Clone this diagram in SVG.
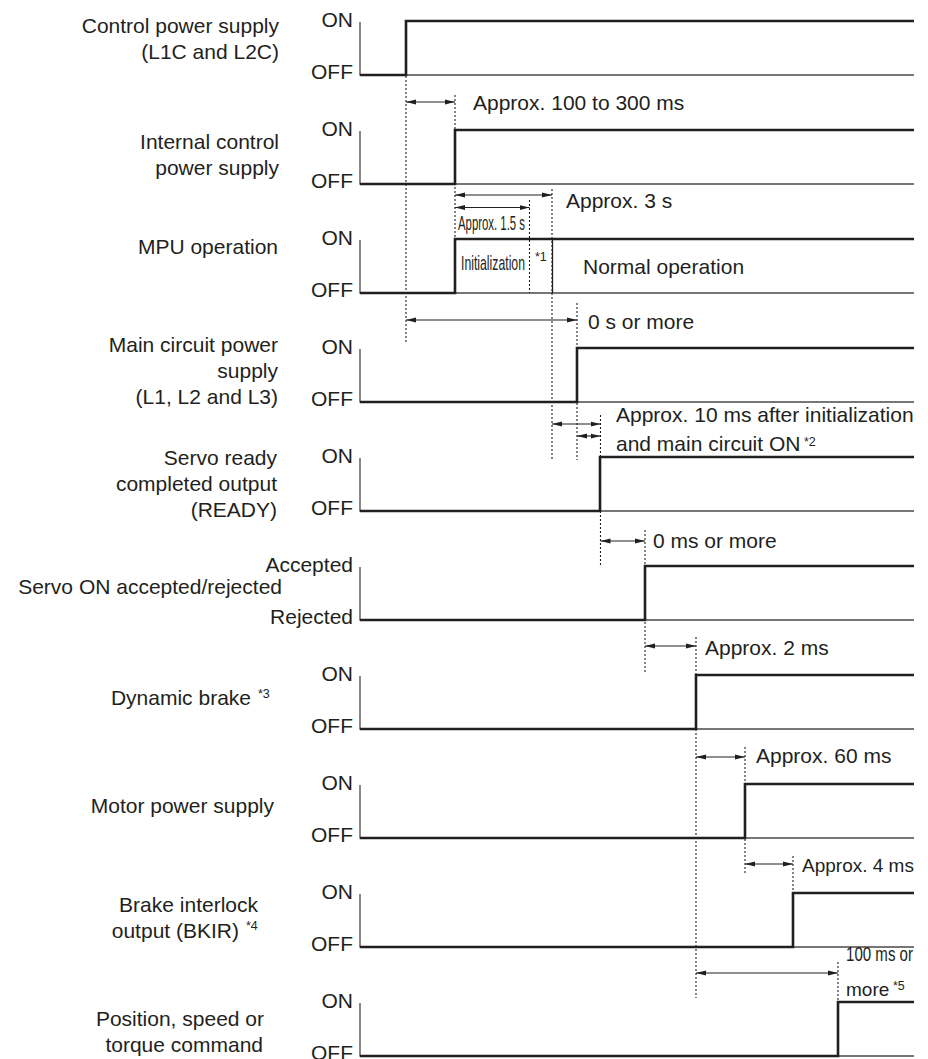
<svg xmlns="http://www.w3.org/2000/svg" width="928" height="1059" viewBox="0 0 928 1059">
<defs>
<style>
text{font-family:"Liberation Sans",Arial,Helvetica,sans-serif;fill:#231f20;font-size:21px}
.e{text-anchor:end}
.sup{font-size:12.5px}
.sm{font-size:19px}
.axis{fill:none;stroke:#4a4a4a;stroke-width:1.3}
.sig{fill:none;stroke:#231f20;stroke-width:2.6;stroke-linejoin:miter}
.dot{fill:none;stroke:#231f20;stroke-width:1.1;stroke-dasharray:2 2}
.arr{fill:none;stroke:#231f20;stroke-width:1.1;marker-start:url(#ah);marker-end:url(#ah)}
.thin{fill:none;stroke:#231f20;stroke-width:1.3}
</style>
<marker id="ah" markerUnits="userSpaceOnUse" markerWidth="11" markerHeight="6" refX="10" refY="3" orient="auto-start-reverse" viewBox="0 0 11 6">
<path d="M0,0.5 L10,3 L0,5.5 Z" fill="#231f20"/>
</marker>
</defs>
<rect width="928" height="1059" fill="#ffffff"/>

<g id="row-control-power">
<text class="e" x="279" y="33">Control power supply</text>
<text class="e" x="279" y="59">(L1C and L2C)</text>
<text class="e" x="353" y="27">ON</text>
<text class="e" x="353" y="79">OFF</text>
<path class="axis" d="M360,22 V75 H914"/>
<path class="sig" d="M360,75 H406 V21 H914"/>
</g>

<g id="row-internal-control">
<text class="e" x="279" y="149">Internal control</text>
<text class="e" x="279" y="175">power supply</text>
<text class="e" x="353" y="136">ON</text>
<text class="e" x="353" y="188">OFF</text>
<path class="axis" d="M360,131 V184 H914"/>
<path class="sig" d="M360,184 H455 V130 H914"/>
</g>

<g id="row-mpu">
<text class="e" x="278" y="254">MPU operation</text>
<text class="e" x="353" y="245">ON</text>
<text class="e" x="353" y="297">OFF</text>
<path class="axis" d="M360,240 V293 H914"/>
<path class="sig" d="M360,293 H455 V239 H914"/>
<line class="thin" x1="552.5" y1="240" x2="552.5" y2="293"/>
<text x="461" y="270" textLength="64" lengthAdjust="spacingAndGlyphs">Initialization</text>
<text class="sup" x="535" y="261">*1</text>
<text x="583" y="274">Normal operation</text>
</g>

<g id="row-main-circuit">
<text class="e" x="278" y="352">Main circuit power</text>
<text class="e" x="278" y="378">supply</text>
<text class="e" x="278" y="404">(L1, L2 and L3)</text>
<text class="e" x="353" y="354">ON</text>
<text class="e" x="353" y="406">OFF</text>
<path class="axis" d="M360,349 V402 H914"/>
<path class="sig" d="M360,402 H577 V348 H914"/>
</g>

<g id="row-servo-ready">
<text class="e" x="277" y="465">Servo ready</text>
<text class="e" x="277" y="491">completed output</text>
<text class="e" x="277" y="517">(READY)</text>
<text class="e" x="353" y="463">ON</text>
<text class="e" x="353" y="515">OFF</text>
<path class="axis" d="M360,458 V511 H914"/>
<path class="sig" d="M360,511 H600 V457 H914"/>
</g>

<g id="row-servo-on">
<text class="e" x="282" y="594">Servo ON accepted/rejected</text>
<text class="e" x="353" y="572">Accepted</text>
<text class="e" x="353" y="624">Rejected</text>
<path class="axis" d="M360,567 V620 H914"/>
<path class="sig" d="M360,620 H645 V566 H914"/>
</g>

<g id="row-dynamic-brake">
<text class="e" x="251" y="705">Dynamic brake</text>
<text class="sup" x="258" y="698">*3</text>
<text class="e" x="353" y="681">ON</text>
<text class="e" x="353" y="733">OFF</text>
<path class="axis" d="M360,676 V729 H914"/>
<path class="sig" d="M360,729 H696 V675 H914"/>
</g>

<g id="row-motor-power">
<text class="e" x="274" y="813">Motor power supply</text>
<text class="e" x="353" y="790">ON</text>
<text class="e" x="353" y="842">OFF</text>
<path class="axis" d="M360,785 V838 H914"/>
<path class="sig" d="M360,838 H745 V784 H914"/>
</g>

<g id="row-brake-interlock">
<text class="e" x="258" y="912">Brake interlock</text>
<text class="e" x="239" y="938">output (BKIR)</text>
<text class="sup" x="246" y="930">*4</text>
<text class="e" x="353" y="899">ON</text>
<text class="e" x="353" y="951">OFF</text>
<path class="axis" d="M360,894 V947 H914"/>
<path class="sig" d="M360,947 H793 V893 H914"/>
</g>

<g id="row-command">
<text class="e" x="264" y="1026">Position, speed or</text>
<text class="e" x="263" y="1052">torque command</text>
<text class="e" x="353" y="1060">OFF</text>
<text class="e" x="353" y="1008">ON</text>
<path class="axis" d="M360,1003 V1056 H914"/>
<path class="sig" d="M360,1056 H838 V1002 H914"/>
</g>

<g id="connectors">
<line class="dot" x1="406" y1="76" x2="406" y2="343"/>
<line class="dot" x1="455" y1="95" x2="455" y2="240"/>
<line class="dot" x1="529.5" y1="200" x2="529.5" y2="293"/>
<line class="dot" x1="552" y1="189" x2="552" y2="460"/>
<line class="dot" x1="577" y1="303" x2="577" y2="460"/>
<line class="dot" x1="600.5" y1="415" x2="600.5" y2="565"/>
<line class="dot" x1="645" y1="530" x2="645" y2="673"/>
<line class="dot" x1="696" y1="637" x2="696" y2="998"/>
<line class="dot" x1="745" y1="747" x2="745" y2="875"/>
<line class="dot" x1="793" y1="856" x2="793" y2="893"/>
<line class="dot" x1="838" y1="962" x2="838" y2="1003"/>

<line class="arr" x1="406" y1="102" x2="455" y2="102"/>
<line class="arr" x1="455" y1="195" x2="552" y2="195"/>
<line class="arr" x1="455" y1="207.5" x2="529.5" y2="207.5"/>
<line class="arr" x1="406" y1="320" x2="577" y2="320"/>
<line class="arr" x1="552" y1="424" x2="600.5" y2="424"/>
<line class="arr" x1="577" y1="436" x2="600.5" y2="436"/>
<line class="arr" x1="600.5" y1="541" x2="645" y2="541"/>
<line class="arr" x1="645" y1="646" x2="696" y2="646"/>
<line class="arr" x1="696" y1="757" x2="745" y2="757"/>
<line class="arr" x1="745" y1="864" x2="793" y2="864"/>
<line class="arr" x1="696" y1="973" x2="838" y2="973"/>
</g>

<g id="timing-labels">
<text x="473" y="110">Approx. 100 to 300 ms</text>
<text x="566" y="208">Approx. 3 s</text>
<text x="458" y="230" font-size="18" textLength="67" lengthAdjust="spacingAndGlyphs">Approx. 1.5 s</text>
<text x="588" y="329">0 s or more</text>
<text x="616" y="422">Approx. 10 ms after initialization</text>
<text x="616" y="451">and main circuit ON</text>
<text class="sup" x="804" y="446">*2</text>
<text x="653" y="548">0 ms or more</text>
<text x="705" y="655">Approx. 2 ms</text>
<text x="756" y="763">Approx. 60 ms</text>
<text class="sm" x="802" y="872">Approx. 4 ms</text>
<text x="846" y="961" font-size="18" textLength="67" lengthAdjust="spacingAndGlyphs">100 ms or</text>
<text class="sm" x="846" y="996">more</text>
<text class="sup" x="893" y="990">*5</text>
</g>
</svg>
